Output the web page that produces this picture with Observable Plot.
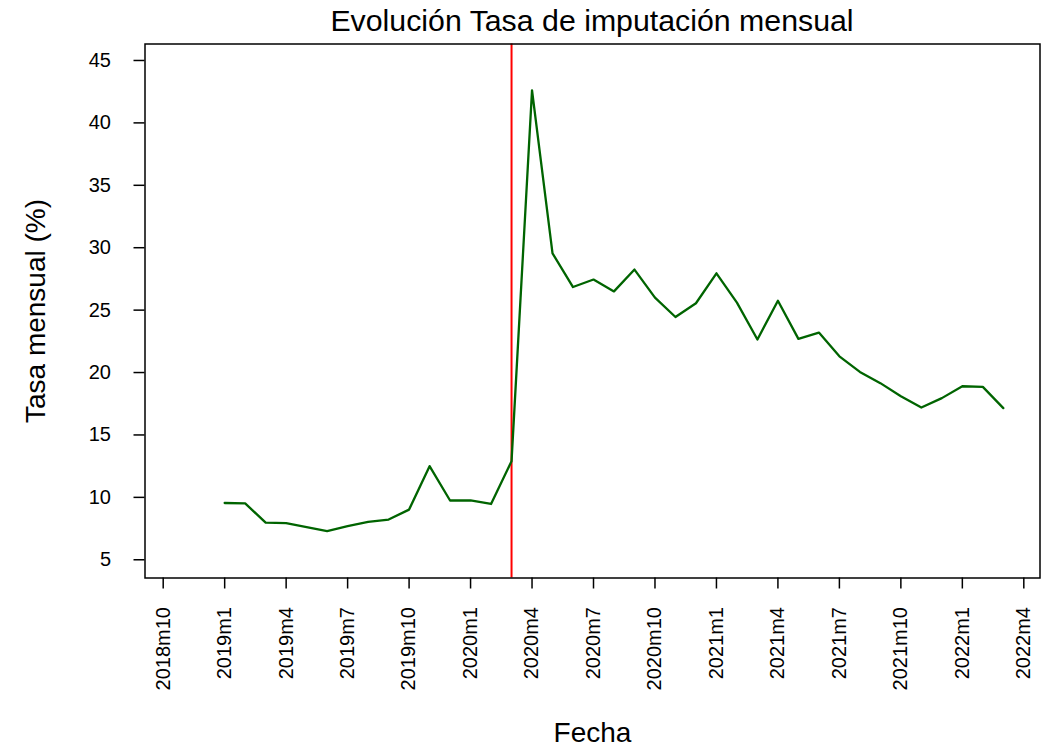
<!DOCTYPE html>
<html>
<head>
<meta charset="utf-8">
<script src="https://cdn.jsdelivr.net/npm/d3@7"></script>
<script src="https://cdn.jsdelivr.net/npm/@observablehq/plot@0.6"></script>
<style>
  body { margin: 0; background: #fff; font-family: "Liberation Sans", Arial, sans-serif; }
  #title { height: 43px; box-sizing: border-box; padding-left: 144.5px; padding-right: 3.5px; padding-top: 5.6px;
           text-align: center; font-size: 30.3px; line-height: 30px; color: #000; white-space: nowrap; }
  #chart svg { display: block; }
  #chart svg g[aria-label="x-axis tick label"], #chart svg g[aria-label="y-axis tick label"] { font-size: 20px; }
  #chart svg g[aria-label="x-axis label"], #chart svg g[aria-label="y-axis label"] { font-size: 28px; }
</style>
</head>
<body>
<div id="title"></div>
<div id="chart"></div>
<script>
const titleText = "Evolución Tasa de imputación mensual";
const xLabel = "Fecha";
const yLabel = "Tasa mensual (%)";

const months = ["2019m1","2019m2","2019m3","2019m4","2019m5","2019m6","2019m7","2019m8","2019m9","2019m10","2019m11","2019m12",
                "2020m1","2020m2","2020m3","2020m4","2020m5","2020m6","2020m7","2020m8","2020m9","2020m10","2020m11","2020m12",
                "2021m1","2021m2","2021m3","2021m4","2021m5","2021m6","2021m7","2021m8","2021m9","2021m10","2021m11","2021m12",
                "2022m1","2022m2","2022m3"];
const tasa = [9.55, 9.52, 7.97, 7.93, 7.62, 7.30, 7.70, 8.03, 8.22, 9.02, 12.50, 9.75,
              9.75, 9.47, 12.90, 42.60, 29.55, 26.85, 27.45, 26.50, 28.25, 26.00, 24.45, 25.55,
              27.95, 25.60, 22.65, 25.75, 22.70, 23.20, 21.30, 20.05, 19.15, 18.10, 17.20, 17.95,
              18.90, 18.85, 17.15];
const tickLabels = ["2018m10","2019m1","2019m4","2019m7","2019m10","2020m1","2020m4","2020m7",
                    "2020m10","2021m1","2021m4","2021m7","2021m10","2022m1","2022m4"];
const yTicks = [5, 10, 15, 20, 25, 30, 35, 40, 45];
const eventMonth = ["2020m3"];

document.getElementById("title").textContent = titleText;

const idx = s => { const [yy, mm] = s.split("m").map(Number); return (yy - 2018) * 12 + mm - 10; };
const data = months.map((m, i) => ({x: idx(m), y: tasa[i]}));
const tickVals = tickLabels.map(idx);

const chart = Plot.plot({
  width: 1043,
  height: 703,
  marginTop: 0.5,
  marginBottom: 168.5,
  marginLeft: 144.5,
  marginRight: 3.5,
  style: {fontFamily: "'Liberation Sans', Arial, sans-serif", background: "white", color: "black"},
  x: {type: "linear", domain: [tickVals[0] - 0.888, tickVals[tickVals.length - 1] + 0.79]},
  y: {domain: [3.54, 46.32]},
  marks: [
    Plot.ruleX(eventMonth.map(idx), {stroke: "red", strokeWidth: 2}),
    Plot.line(data, {x: "x", y: "y", stroke: "#006400", strokeWidth: 2.3}),
    Plot.axisY({ticks: yTicks, tickSize: 11, tickPadding: 23, fontSize: 20, strokeWidth: 1.5, label: null}),
    Plot.axisY({ticks: [], tickSize: 0, fontSize: 28, label: yLabel, labelAnchor: "center", labelArrow: "none", labelOffset: 119.5}),
    Plot.axisX({ticks: tickVals, tickFormat: d => tickLabels[tickVals.indexOf(d)], tickRotate: -90,
                tickSize: 11, tickPadding: 18, fontSize: 20, strokeWidth: 1.5, label: null}),
    Plot.axisX({ticks: [], tickSize: 0, fontSize: 28, label: xLabel, labelAnchor: "center", labelArrow: "none", labelOffset: 163.5}),
    Plot.frame({stroke: "black", strokeWidth: 1.5})
  ]
});
document.getElementById("chart").appendChild(chart);
</script>
</body>
</html>
